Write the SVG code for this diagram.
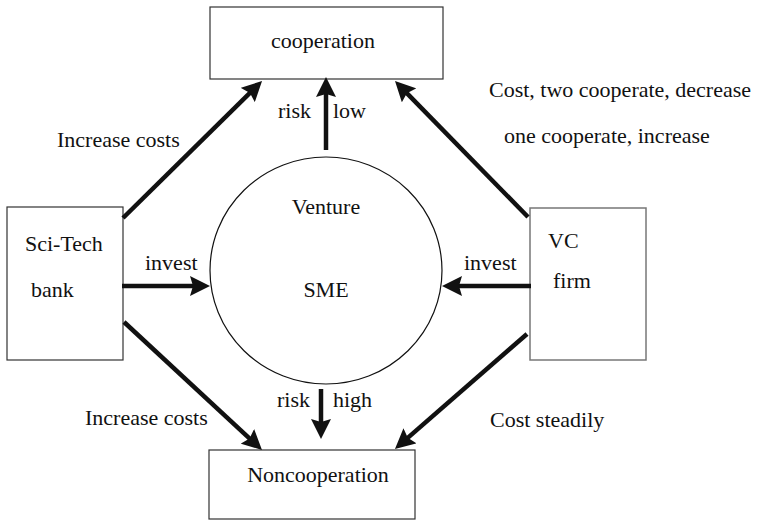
<svg xmlns="http://www.w3.org/2000/svg" width="765" height="521" viewBox="0 0 765 521" font-family="'Liberation Serif', 'DejaVu Serif', serif">
  <style>
    .box { fill: #fff; stroke: #333; stroke-width: 1.2; }
    .box2 { fill: #fff; stroke: #777; stroke-width: 1.5; }
    .ring { fill: #fff; stroke: #111; stroke-width: 1.2; }
    text { font-family: 'Liberation Serif', 'DejaVu Serif', serif; font-size: 22px; fill: #111; }
    .m { text-anchor: middle; }
    .edge { stroke: #111; stroke-width: 4.5; fill: none; marker-end: url(#head); }
  </style>
  <defs>
    <!-- filled arrowhead with a shallow notch at the base -->
    <marker id="head" markerUnits="userSpaceOnUse" viewBox="0 0 20 20" refX="8" refY="10" markerWidth="20" markerHeight="20" orient="auto">
      <path d="M0,0 L20,10 L0,20 L3,10 z" fill="#111"/>
    </marker>
  </defs>

  <g id="cooperation">
    <rect class="box" x="210" y="7" width="233" height="72"/>
    <text class="m" x="323" y="48">cooperation</text>
  </g>

  <g id="noncooperation">
    <rect class="box" x="209" y="450" width="206" height="69"/>
    <text class="m" x="318" y="482">Noncooperation</text>
  </g>

  <g id="scitech-bank">
    <rect class="box" x="7" y="207" width="116" height="153"/>
    <text x="25" y="251">Sci-Tech</text>
    <text x="31" y="297">bank</text>
  </g>

  <g id="vc-firm">
    <rect class="box2" x="530" y="208" width="116" height="152"/>
    <text x="548" y="248">VC</text>
    <text x="553" y="288">firm</text>
  </g>

  <g id="venture-sme">
    <ellipse class="ring" cx="326" cy="270.5" rx="116" ry="113.5"/>
    <text class="m" x="326" y="214">Venture</text>
    <text class="m" x="326" y="297">SME</text>
  </g>

  <g id="connectors">
    <line class="edge" x1="326" y1="150" x2="326" y2="89"/>
    <line class="edge" x1="321" y1="389" x2="321" y2="427"/>
    <line class="edge" x1="123" y1="218" x2="253.5" y2="89.4"/>
    <line class="edge" x1="528" y1="217" x2="403.4" y2="89.6"/>
    <line class="edge" x1="124" y1="322" x2="253.2" y2="441.8"/>
    <line class="edge" x1="527" y1="334" x2="404" y2="441.1"/>
    <line class="edge" x1="122" y1="286" x2="198" y2="286"/>
    <line class="edge" x1="531" y1="286" x2="454" y2="286"/>
  </g>

  <g id="labels">
    <text x="278" y="118">risk</text>
    <text x="333" y="118">low</text>
    <text x="277" y="407">risk</text>
    <text x="333" y="407">high</text>
    <text x="57" y="147">Increase costs</text>
    <text x="85" y="425">Increase costs</text>
    <text x="489" y="97">Cost, two cooperate, decrease</text>
    <text x="504" y="143">one cooperate, increase</text>
    <text x="490" y="427">Cost steadily</text>
    <text x="145" y="270">invest</text>
    <text x="464" y="270">invest</text>
  </g>
</svg>
